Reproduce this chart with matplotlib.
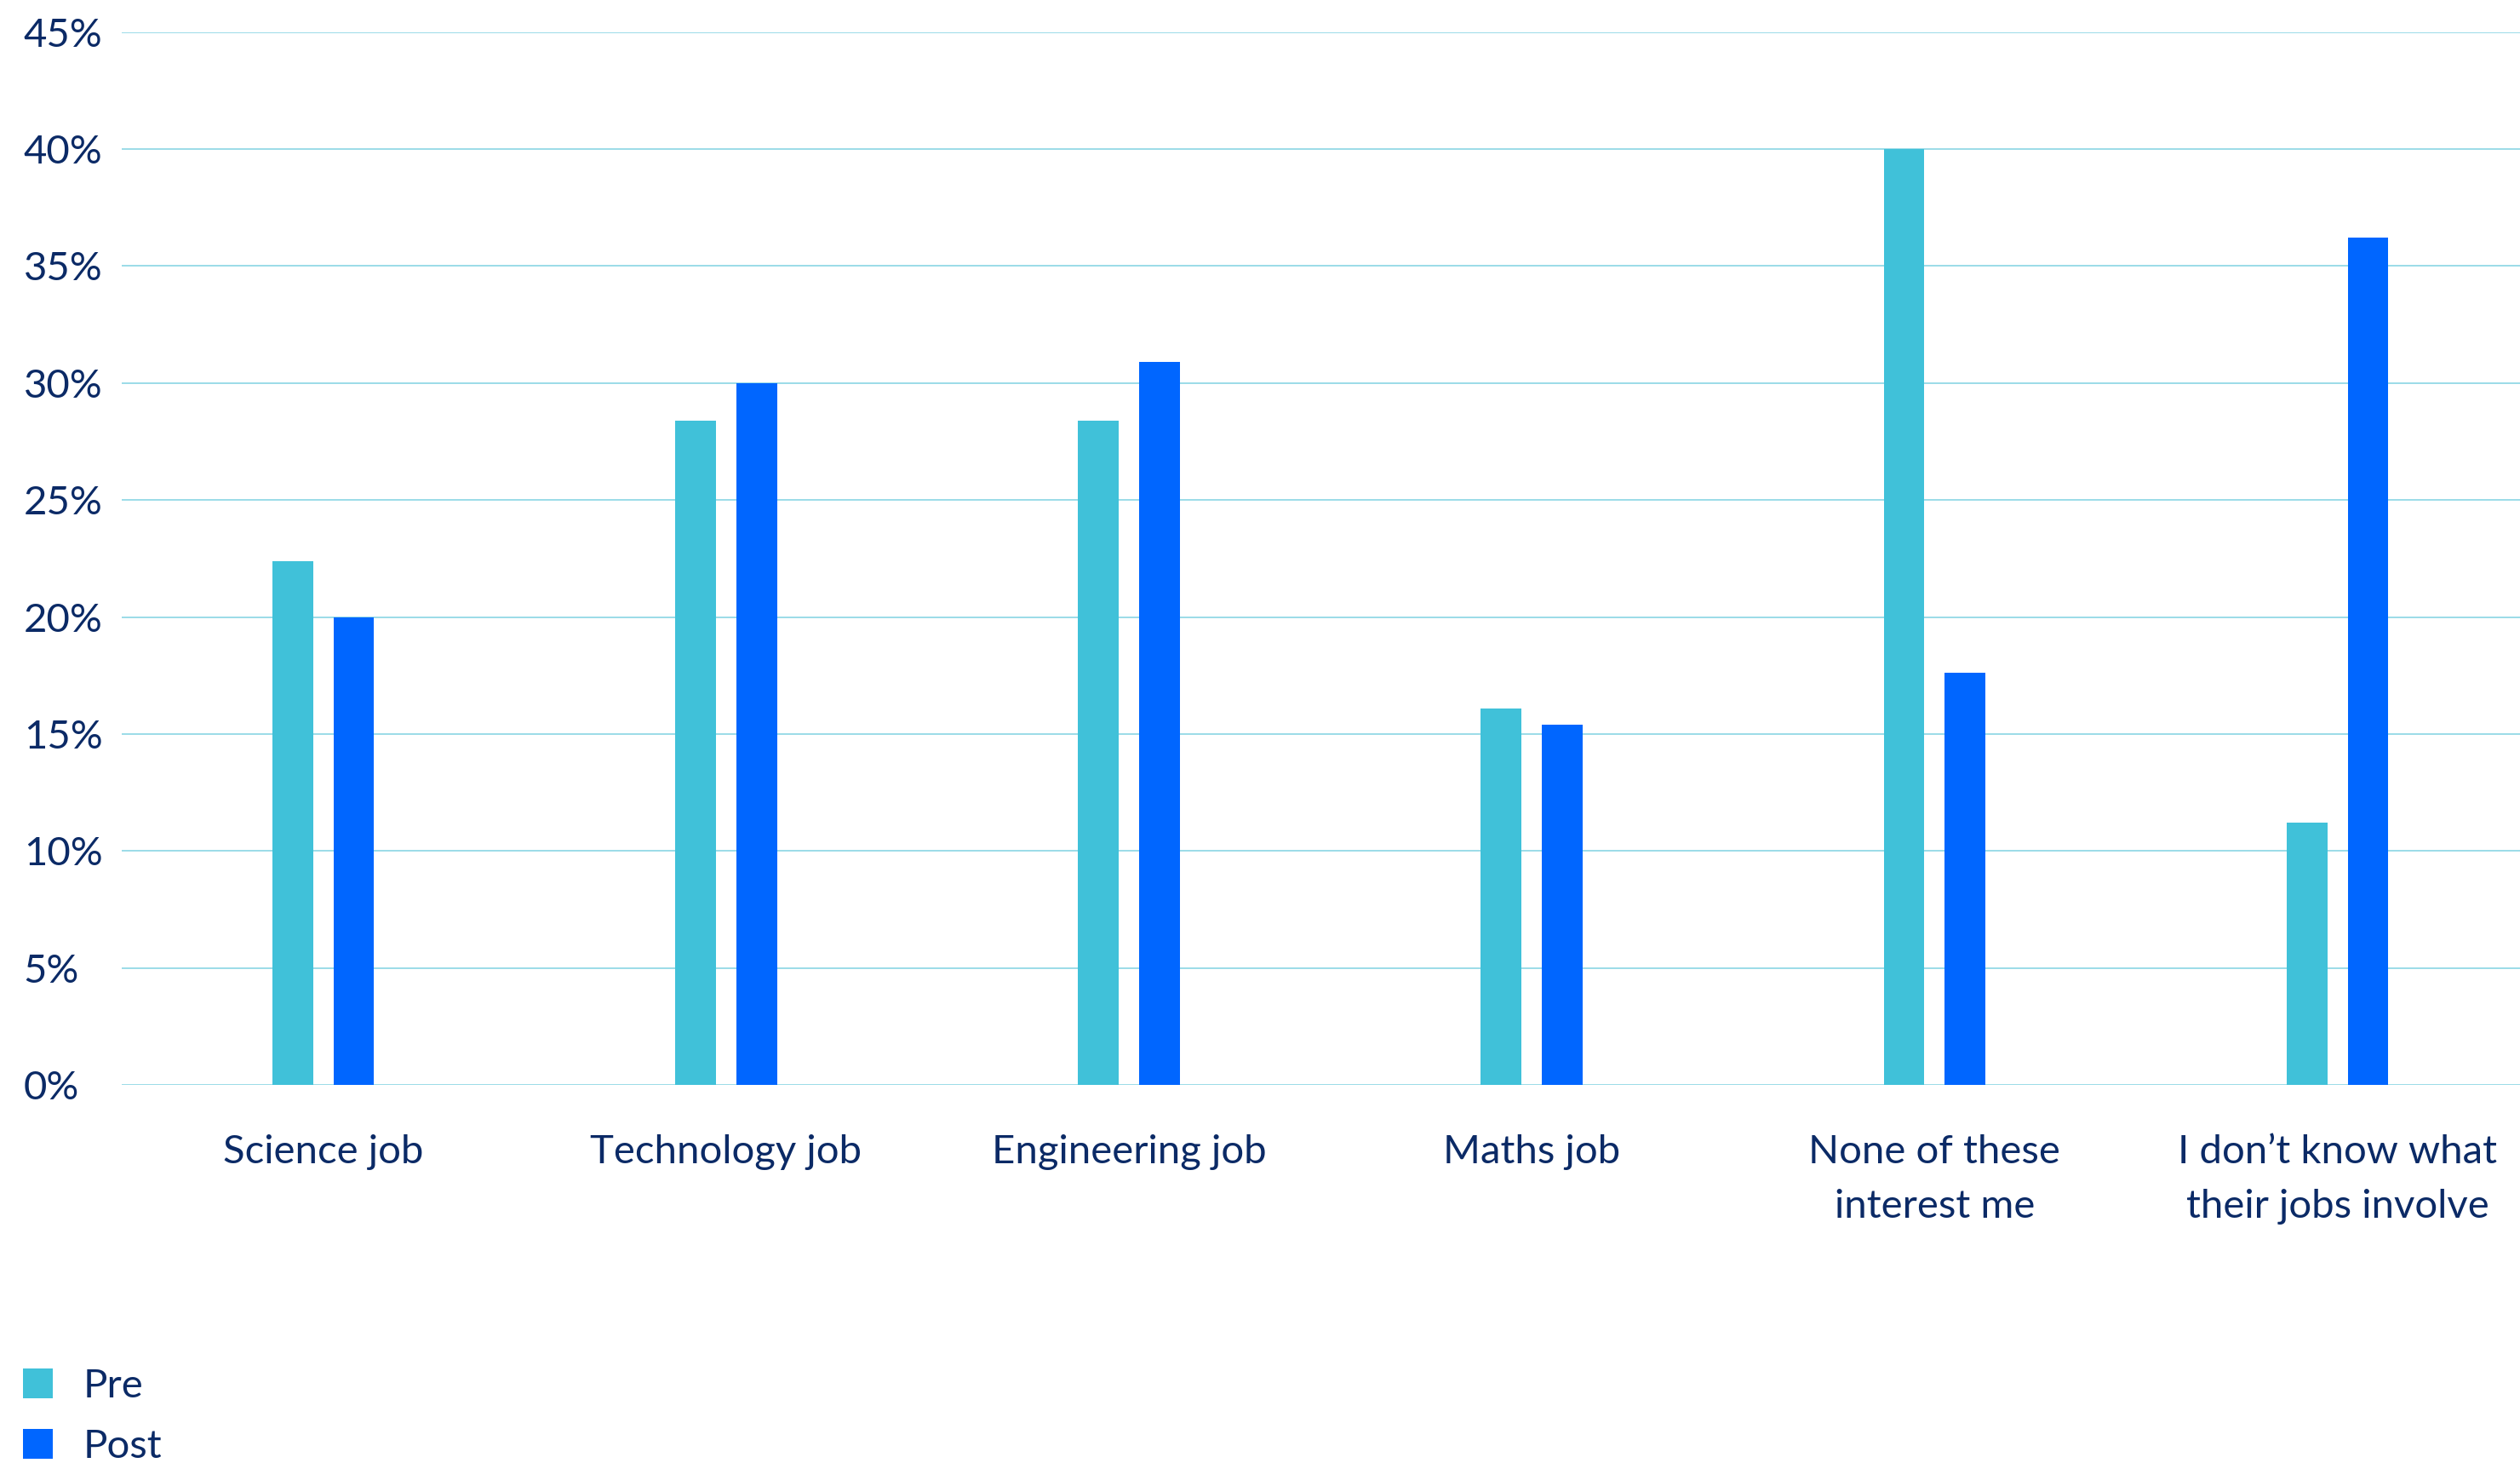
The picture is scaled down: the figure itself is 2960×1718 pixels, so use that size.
import numpy as np
import matplotlib.pyplot as plt

# survey results, share of pupils (%)
categories = ["Science job", "Technology job", "Engineering job", "Maths job",
              "None of these\ninterest me", "I don\u2019t know what\ntheir jobs involve"]
pre = [22.4, 28.4, 28.4, 16.1, 40.0, 11.2]
post = [20.0, 30.0, 30.9, 15.4, 17.6, 36.2]
yticks = [0, 5, 10, 15, 20, 25, 30, 35, 40, 45]

col_pre = "#40c1d9"
col_post = "#0066ff"
col_text = "#0b2a66"
col_grid = "#93d9e6"

plt.rcParams['font.family'] = ['Lato', 'DejaVu Sans']

fig = plt.figure(figsize=(29.6, 17.18), dpi=100)
ax = fig.add_axes([143 / 2960, 1 - 1274 / 1718, 1 - 143 / 2960, (1274 - 37.7) / 1718])

x = np.arange(len(categories))
w = 0.101
off = 0.076
ax.bar(x - off, pre, w, color=col_pre, label="Pre", zorder=3)
ax.bar(x + off, post, w, color=col_post, label="Post", zorder=3)

ax.set_xlim(-0.5, 5.453)
ax.set_ylim(0, 45)
ax.set_yticks(yticks)
ax.set_yticklabels([f"{t}%" for t in yticks])
ax.yaxis.grid(True, color=col_grid, linewidth=1.3, zorder=0)
ax.set_axisbelow(True)

ax.set_xticks(x)
ax.set_xticklabels(categories, linespacing=1.65)
ax.tick_params(axis='x', length=0, pad=42, labelsize=34, labelcolor=col_text)
ax.tick_params(axis='y', length=0, pad=83, labelsize=34, labelcolor=col_text)
for lab in ax.get_yticklabels():
    lab.set_horizontalalignment('left')
for lab in ax.get_xticklabels():
    lab.set_verticalalignment('top')

for s in ax.spines.values():
    s.set_visible(False)

leg = fig.legend(loc='upper left', bbox_to_anchor=(8 / 2960, 1 - 1588 / 1718),
                 frameon=False, fontsize=34, handlelength=0.75, handleheight=0.75,
                 handletextpad=0.75, labelspacing=0.62, borderaxespad=0)
for t in leg.get_texts():
    t.set_color(col_text)

fig.savefig("out.png", dpi=100)
